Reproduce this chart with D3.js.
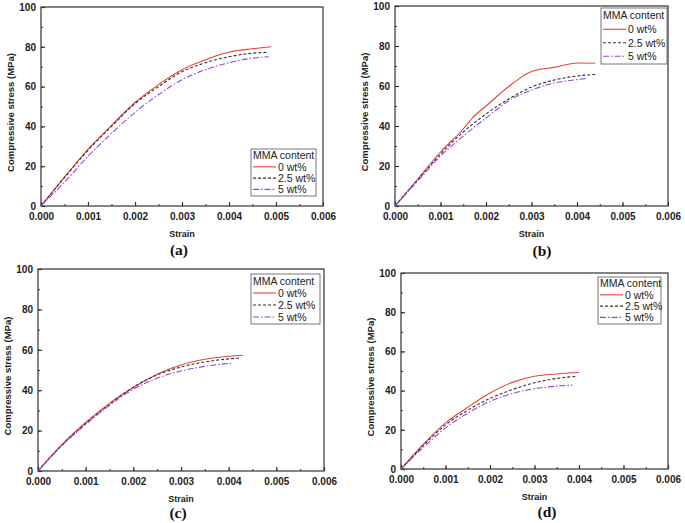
<!DOCTYPE html>
<html><head><meta charset="utf-8">
<script src="https://cdn.jsdelivr.net/npm/d3@7"></script>
<style>
html,body{margin:0;padding:0;background:#fff;}
svg{display:block;font-family:"Liberation Sans",Arial,sans-serif;}
</style></head>
<body><svg id="c" width="685" height="523"></svg>
<script>
// ---- data ----
const seriesNames = ["0 wt%", "2.5 wt%", "5 wt%"];
const xTicks = [0, 0.001, 0.002, 0.003, 0.004, 0.005, 0.006];
const yTicks = [0, 20, 40, 60, 80, 100];
const panelLabels = ["(a)", "(b)", "(c)", "(d)"];

const a0  = [[0,0],[0.0005,14.5],[0.001,28.5],[0.0015,40.5],[0.002,52],[0.0025,61],[0.003,68.5],[0.0035,73.5],[0.0037,75.3],[0.004,77.3],[0.0045,79],[0.0049,80]];
const a25 = [[0,0],[0.0005,14.3],[0.001,28],[0.0015,40],[0.002,51.5],[0.0025,60],[0.003,67.5],[0.0035,72],[0.004,75],[0.0045,76.8],[0.0048,77.2]];
const a5  = [[0,0],[0.0005,12],[0.001,25],[0.0015,36.5],[0.002,47],[0.0025,56],[0.003,63.5],[0.0035,68.5],[0.004,72],[0.0045,74.3],[0.00485,75]];

const b0  = [[0,0],[0.0005,13.5],[0.001,27],[0.0015,38.5],[0.0017,44],[0.002,50],[0.0026,61.5],[0.003,67.3],[0.0035,69.3],[0.004,71.5],[0.0044,71.4]];
const b25 = [[0,0],[0.0005,13],[0.001,26],[0.0015,37],[0.002,46],[0.0025,53.5],[0.003,59.5],[0.0035,63],[0.004,65],[0.0044,65.8]];
const b5  = [[0,0],[0.0005,12.5],[0.001,25],[0.0015,35],[0.002,44],[0.0026,54],[0.003,58],[0.0035,61.5],[0.004,63.2],[0.0042,63.7]];

const c0  = [[0,0],[0.0005,13],[0.001,24],[0.0015,33.5],[0.002,41.3],[0.0026,49],[0.003,52.5],[0.0035,55.3],[0.004,56.8],[0.0043,57.3]];
const c25 = [[0,0],[0.0005,12.8],[0.001,23.5],[0.0015,33],[0.002,41.5],[0.0026,48.5],[0.003,51.5],[0.0035,54],[0.004,55.5],[0.00425,56]];
const c5  = [[0,0],[0.0005,12.5],[0.001,23],[0.0015,32.5],[0.002,40.5],[0.0026,46.8],[0.003,49.5],[0.0035,51.8],[0.0041,53.5]];

const d0  = [[0,0],[0.0005,12.5],[0.001,23.5],[0.0015,31.5],[0.002,38.8],[0.0025,44.2],[0.003,47.3],[0.0035,48.5],[0.004,49.2]];
const d25 = [[0,0],[0.0005,12],[0.001,22.5],[0.0015,30],[0.002,36],[0.0025,40.5],[0.003,44],[0.0035,46.2],[0.00395,47.3]];
const d5  = [[0,0],[0.0005,11],[0.001,21],[0.0015,28.5],[0.002,34.5],[0.0025,38.5],[0.003,41],[0.0035,42.3],[0.00385,42.8]];

// ---- layout / style ----
const colors = ["#e8413c", "#333333", "#9047e0"];
const dashes = [null, "3,2", "6,2,1.5,2"];
const panels = [
  {data:[a0,a25,a5], x0:41,  x1:323, y0:7,   y1:206, leg:{x:251,y:149,w:65,h:47}, lab:[179,255]},
  {data:[b0,b25,b5], x0:395, x1:668, y0:6,   y1:206, leg:{x:601,y:8,w:66,h:56},  lab:[542,256]},
  {data:[c0,c25,c5], x0:38,  x1:324, y0:269, y1:471, leg:{x:251,y:274,w:69,h:50}, lab:[178,518]},
  {data:[d0,d25,d5], x0:401, x1:668, y0:273, y1:469, leg:{x:598,y:277,w:63,h:47}, lab:[547,517]}
];

const svg = d3.select("#c");
const axisCol = "#333";
const tickFont = 10, titleFont = 9.5;

panels.forEach((p, pi) => {
  const x = d3.scaleLinear().domain([0, 0.006]).range([p.x0, p.x1]);
  const y = d3.scaleLinear().domain([0, 100]).range([p.y1, p.y0]);
  const g = svg.append("g");

  // frame
  g.append("rect").attr("x", p.x0).attr("y", p.y0)
    .attr("width", p.x1 - p.x0).attr("height", p.y1 - p.y0)
    .attr("fill", "none").attr("stroke", axisCol).attr("stroke-width", 1.2);

  // x axis (ticks inward)
  const xMinor = d3.range(0, 13).map(i => i * 0.0005);
  const xa = g.append("g").attr("transform", `translate(0,${p.y1})`)
    .call(d3.axisBottom(x).tickValues(xMinor).tickSize(-2).tickFormat(""));
  xa.select(".domain").remove();
  xa.selectAll("line").attr("stroke", axisCol);
  const xb = g.append("g").attr("transform", `translate(0,${p.y1})`)
    .call(d3.axisBottom(x).tickValues(xTicks).tickSize(-4).tickPadding(6.5).tickFormat(d3.format(".3f")));
  xb.select(".domain").remove();
  xb.selectAll("line").attr("stroke", axisCol).attr("stroke-width", 1.2);
  xb.selectAll("text").attr("font-size", tickFont).attr("font-weight", "bold").attr("fill", "#222")
    .attr("font-family", "Liberation Sans, Arial, sans-serif");

  // y axis
  const yMinor = d3.range(0, 11).map(i => i * 10);
  const ya = g.append("g").attr("transform", `translate(${p.x0},0)`)
    .call(d3.axisLeft(y).tickValues(yMinor).tickSize(-2).tickFormat(""));
  ya.select(".domain").remove();
  ya.selectAll("line").attr("stroke", axisCol);
  const yb = g.append("g").attr("transform", `translate(${p.x0},0)`)
    .call(d3.axisLeft(y).tickValues(yTicks).tickSize(-4).tickPadding(5).tickFormat(d3.format("d")));
  yb.select(".domain").remove();
  yb.selectAll("line").attr("stroke", axisCol).attr("stroke-width", 1.2);
  yb.selectAll("text").attr("font-size", tickFont).attr("font-weight", "bold").attr("fill", "#222")
    .attr("font-family", "Liberation Sans, Arial, sans-serif");

  // axis titles
  g.append("text").attr("x", (p.x0 + p.x1) / 2).attr("y", p.y1 + 30.5)
    .attr("text-anchor", "middle").attr("font-size", 9).attr("font-weight", "bold").attr("fill", "#222")
    .text("Strain");
  g.append("text").attr("transform", `translate(${p.x0 - 27.5},${(p.y0 + p.y1) / 2 + 6}) rotate(-90)`)
    .attr("text-anchor", "middle").attr("font-size", titleFont).attr("font-weight", "bold").attr("fill", "#222")
    .text("Compressive stress (MPa)");

  // curves
  const line = d3.line().x(d => x(d[0])).y(d => y(d[1])).curve(d3.curveMonotoneX);
  p.data.forEach((s, si) => {
    g.append("path").datum(s).attr("d", line)
      .attr("fill", "none").attr("stroke", colors[si]).attr("stroke-width", 1.1)
      .attr("stroke-dasharray", dashes[si]);
  });

  // legend
  const L = p.leg;
  const lg = g.append("g");
  lg.append("rect").attr("x", L.x).attr("y", L.y).attr("width", L.w).attr("height", L.h)
    .attr("fill", "#fff").attr("stroke", "#555").attr("stroke-width", 0.8);
  const rowH = (L.h - 2) / 4;
  lg.append("text").attr("x", L.x + 2).attr("y", L.y + rowH * 0.5 + 4.5)
    .attr("font-size", 10.5).attr("fill", "#222").text("MMA content");
  seriesNames.forEach((n, si) => {
    const cy = L.y + 1 + rowH * (si + 1.5);
    lg.append("line").attr("x1", L.x + 2).attr("x2", L.x + 25).attr("y1", cy).attr("y2", cy)
      .attr("stroke", colors[si]).attr("stroke-width", 1.1).attr("stroke-dasharray", dashes[si]);
    lg.append("text").attr("x", L.x + 27).attr("y", cy + 4)
      .attr("font-size", 10.5).attr("fill", "#222").text(n);
  });

  // panel label
  svg.append("text").attr("x", p.lab[0]).attr("y", p.lab[1])
    .attr("text-anchor", "middle").attr("font-family", "Liberation Serif, Times New Roman, serif")
    .attr("font-size", 15.5).attr("font-weight", "bold").attr("fill", "#111").text(panelLabels[pi]);
});
</script></body></html>
